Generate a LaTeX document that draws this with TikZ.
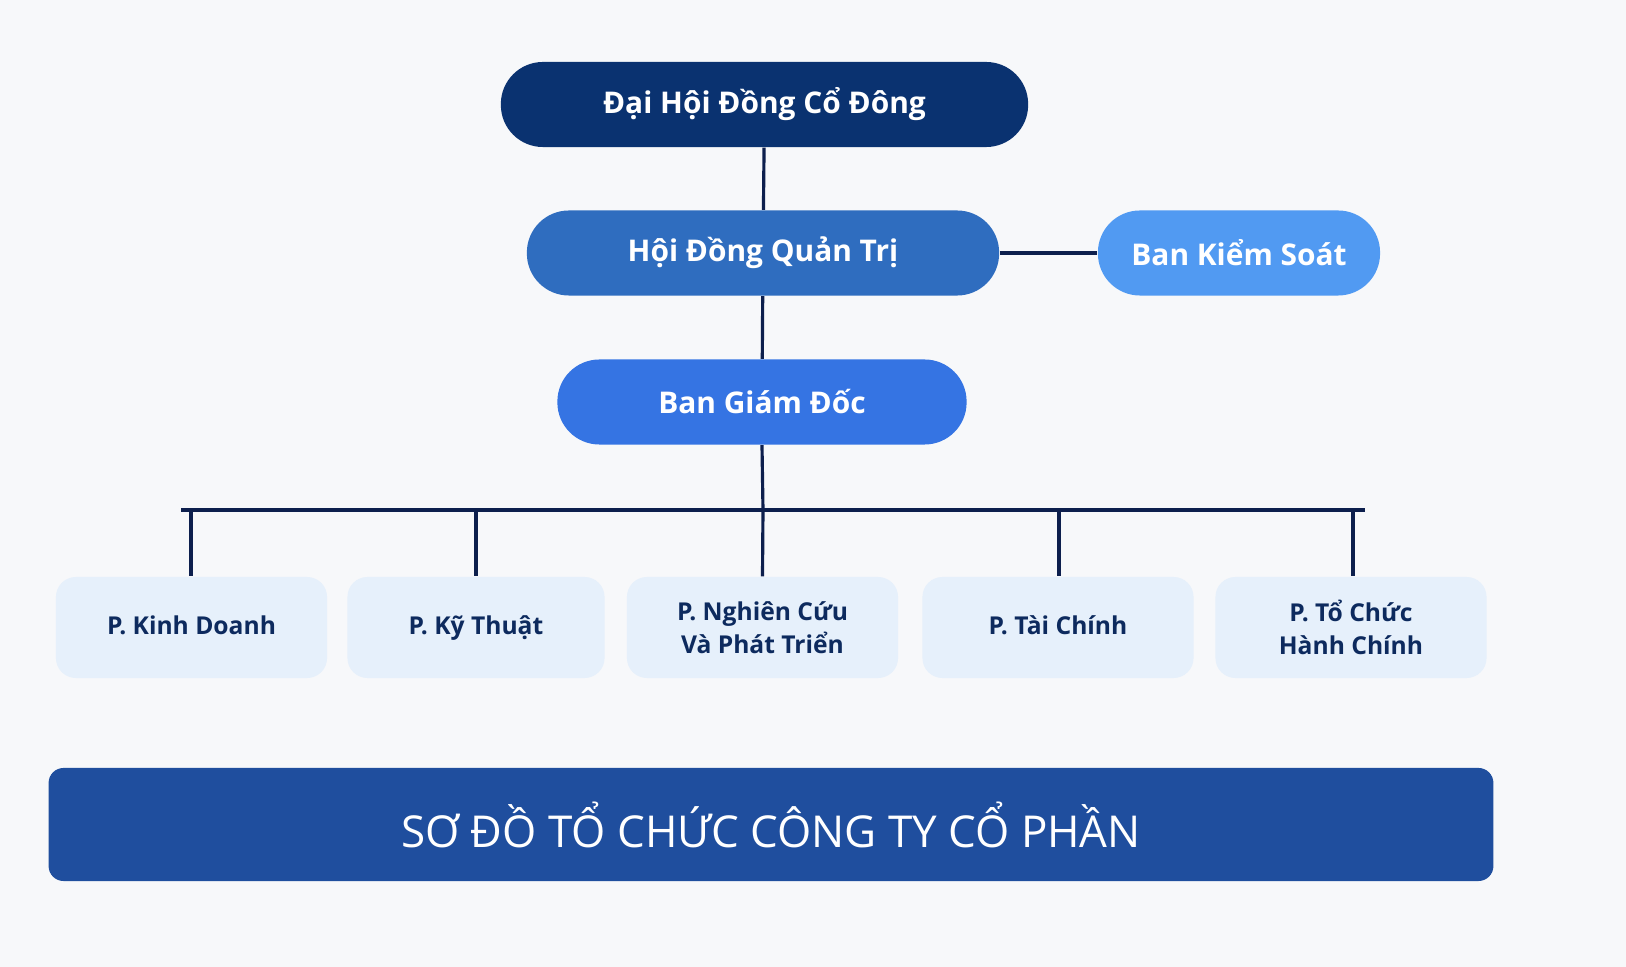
\documentclass[tikz,border=0pt]{standalone}
\usepackage{fontspec}
\setmainfont{Open Sans}
\usetikzlibrary{positioning}
\definecolor{bgc}{HTML}{F7F8FA}
\definecolor{navy}{HTML}{0A3270}
\definecolor{hdqt}{HTML}{2F6DBF}
\definecolor{bks}{HTML}{519AF2}
\definecolor{bgd}{HTML}{3574E3}
\definecolor{dept}{HTML}{E6F0FB}
\definecolor{depttext}{HTML}{0D2A5E}
\definecolor{linec}{HTML}{0D1F4D}
\definecolor{banner}{HTML}{1F4E9E}
\tikzset{
  pill/.style={rounded corners=0.42cm, minimum height=0.85cm, text=white,
    font=\fontsize{8.5}{10}\selectfont\bfseries, align=center},
  deptbox/.style={rounded corners=0.2cm, fill=dept, minimum width=2.71cm,
    minimum height=1.01cm, text=depttext, align=center,
    font=\fontsize{7}{9.5}\selectfont\bfseries},
  conn/.style={draw=linec, line width=0.9pt}
}
\begin{document}
\begin{tikzpicture}[x=0.01cm,y=-0.01cm]
\fill[bgc] (0,0) rectangle (1626,967);
\useasboundingbox (0,0) rectangle (1626,967);
\begin{scope}
    \node[pill, fill=navy, minimum width=5.27cm] (dhd) at (764.5,104.5) {Đại Hội Đồng Cổ Đông};
    \node[pill, fill=hdqt, minimum width=4.72cm] (hdqt) at (763,253) {Hội Đồng Quản Trị};
    \node[pill, fill=bks, minimum width=2.82cm] (bks) at (1239,253) {Ban Kiểm Soát};
    \node[pill, fill=bgd, minimum width=4.09cm] (bgd) at (762,402) {Ban Giám Đốc};
    \node[deptbox] (kd) at (191.5,627.5) {P. Kinh Doanh\strut};
    \node[deptbox, minimum width=2.57cm] (kt) at (476,627.5) {P. Kỹ Thuật\strut};
    \node[deptbox] (nc) at (762.5,627.5) {P. Nghiên Cứu\\Và Phát Triển};
    \node[deptbox] (tc) at (1058,627.5) {P. Tài Chính\strut};
    \node[deptbox] (hc) at (1351,627.5) {P. Tổ Chức\\Hành Chính};
    \node[rounded corners=0.15cm, fill=banner, minimum width=14.44cm, minimum height=1.13cm,
      text=white, font=\fontsize{12.5}{14}\selectfont] (title) at (771,824.5) {SƠ ĐỒ TỔ CHỨC CÔNG TY CỔ PHẦN};
    \coordinate (busl) at (181,510);
    \coordinate (busr) at (1365,510);
    \coordinate (busm) at (763,510);
\end{scope}

\begin{scope}
    \path[conn] (dhd) -- (hdqt);
    \path[conn] (hdqt) -- (bgd);
    \path[conn] (hdqt) -- (bks);
    \path[conn] (bgd.south) -- (busm);
    \path[conn] (busl) -- (busr);
    \path[conn] (191,510) -- (191,0 |- kd.north);
    \path[conn] (476,510) -- (476,0 |- kt.north);
    \path[conn] (busm) -- (nc.north);
    \path[conn] (1059,510) -- (1059,0 |- tc.north);
    \path[conn] (1353,510) -- (1353,0 |- hc.north);
\end{scope}
\end{tikzpicture}
\end{document}
